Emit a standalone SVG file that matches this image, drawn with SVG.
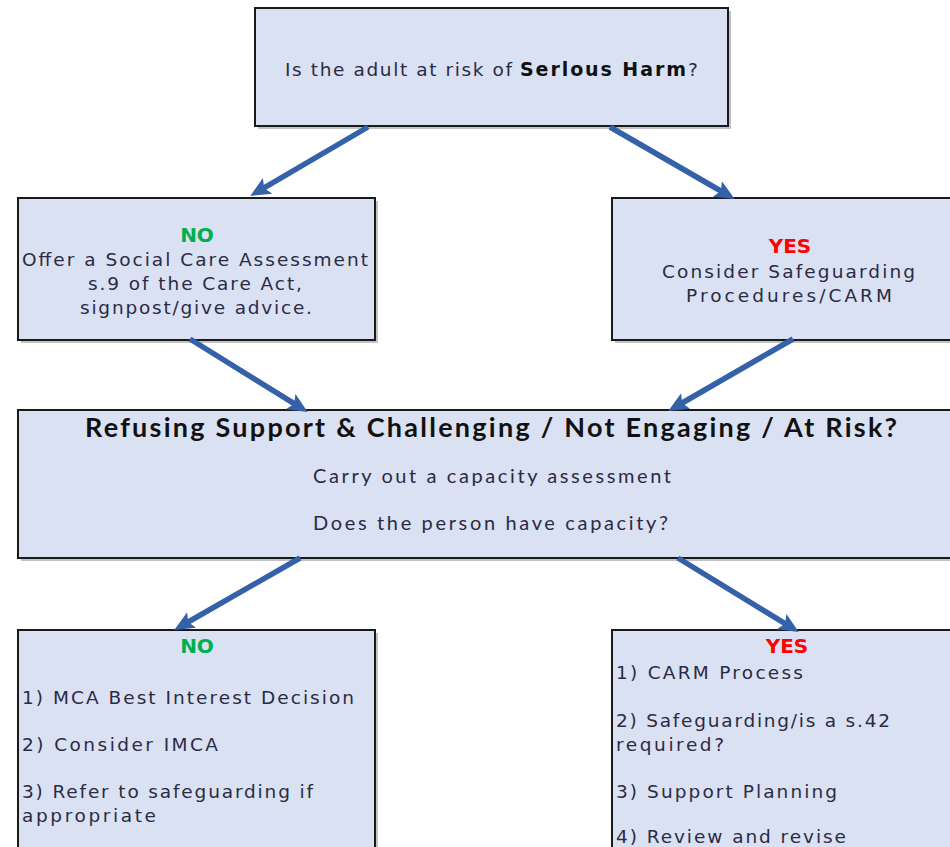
<svg xmlns="http://www.w3.org/2000/svg" width="950" height="847" viewBox="0 0 950 847">
<style>
.box{fill:#dae1f2;stroke:#1a1a1a;stroke-width:2}
.shadow{fill:#9a9a9a;opacity:0.6}
.t{font-family:"DejaVu Sans",Verdana,sans-serif;font-size:18.5px;fill:#2b2b45}
.tb{font-family:"DejaVu Sans",Verdana,sans-serif;font-size:19px;font-weight:bold;fill:#111}
.c{font-family:Lato,"Open Sans",sans-serif;font-size:20px;fill:#2b2b45}
.cb{font-family:Lato,"Open Sans",sans-serif;font-size:27px;font-weight:bold;fill:#111}
.no{font-family:"DejaVu Sans",Verdana,sans-serif;font-size:20px;font-weight:bold;fill:#00b050;text-anchor:middle}
.yes{font-family:"DejaVu Sans",Verdana,sans-serif;font-size:20px;font-weight:bold;fill:#ff0000;text-anchor:middle}
.arr{stroke:#3461a8;stroke-width:5.5;fill:none;marker-end:url(#ah)}
</style>
<defs>
<marker id="ah" markerUnits="userSpaceOnUse" markerWidth="22" markerHeight="20" refX="6" refY="9" orient="auto">
<path d="M0,0 L20,9 L0,18 L4,9 z" fill="#3461a8"/>
</marker>
</defs>
<rect width="950" height="847" fill="#ffffff"/>

<g id="n-top">
<rect class="shadow" x="258" y="11" width="473" height="118"/>
<rect class="box" x="255" y="8" width="473" height="118"/>
<text class="t" x="285" y="76" textLength="227" lengthAdjust="spacing">Is the adult at risk of</text>
<text class="tb" x="520" y="76" textLength="166" lengthAdjust="spacing">Serlous Harm</text>
<text class="t" x="688" y="76">?</text>
</g>

<g id="n-no1">
<rect class="shadow" x="21" y="201" width="357" height="142"/>
<rect class="box" x="18" y="198" width="357" height="142"/>
<text class="no" x="197" y="242">NO</text>
<text class="t" x="22" y="266" textLength="346" lengthAdjust="spacing">Offer a Social Care Assessment</text>
<text class="t" x="88" y="290" textLength="214" lengthAdjust="spacing">s.9 of the Care Act,</text>
<text class="t" x="80" y="314" textLength="232" lengthAdjust="spacing">signpost/give advice.</text>
</g>

<g id="n-yes1">
<rect class="shadow" x="615" y="201" width="340" height="142"/>
<rect class="box" x="612" y="198" width="345" height="142"/>
<text class="yes" x="790" y="253">YES</text>
<text class="t" x="662" y="278" textLength="253" lengthAdjust="spacing">Consider Safeguarding</text>
<text class="t" x="686" y="302" textLength="206" lengthAdjust="spacing">Procedures/CARM</text>
</g>

<g id="n-mid">
<rect class="shadow" x="21" y="413" width="940" height="148"/>
<rect class="box" x="18" y="410" width="945" height="148"/>
<text class="cb" x="85" y="437" textLength="812" lengthAdjust="spacing">Refusing Support &amp; Challenging / Not Engaging / At Risk?</text>
<text class="c" x="313" y="483" textLength="358" lengthAdjust="spacing">Carry out a capacity assessment</text>
<text class="c" x="313" y="530" textLength="355" lengthAdjust="spacing">Does the person have capacity?</text>
</g>

<g id="n-no2">
<rect class="shadow" x="21" y="633" width="357" height="220"/>
<rect class="box" x="18" y="630" width="357" height="225"/>
<text class="no" x="197" y="653">NO</text>
<text class="t" x="22" y="704" textLength="332" lengthAdjust="spacing">1) MCA Best Interest Decision</text>
<text class="t" x="22" y="751" textLength="196" lengthAdjust="spacing">2) Consider IMCA</text>
<text class="t" x="22" y="798" textLength="291" lengthAdjust="spacing">3) Refer to safeguarding if</text>
<text class="t" x="22" y="822" textLength="134" lengthAdjust="spacing">appropriate</text>
</g>

<g id="n-yes2">
<rect class="shadow" x="615" y="633" width="340" height="220"/>
<rect class="box" x="612" y="630" width="345" height="225"/>
<text class="yes" x="787" y="653">YES</text>
<text class="t" x="616" y="679" textLength="187" lengthAdjust="spacing">1) CARM Process</text>
<text class="t" x="616" y="727" textLength="274" lengthAdjust="spacing">2) Safeguarding/is a s.42</text>
<text class="t" x="616" y="751" textLength="108" lengthAdjust="spacing">required?</text>
<text class="t" x="616" y="798" textLength="221" lengthAdjust="spacing">3) Support Planning</text>
<text class="t" x="616" y="843" textLength="230" lengthAdjust="spacing">4) Review and revise</text>
</g>

<g id="connectors">
<line class="arr" x1="368" y1="127" x2="262.3" y2="188.9"/>
<line class="arr" x1="610" y1="127" x2="722.6" y2="192"/>
<line class="arr" x1="190" y1="339" x2="295.8" y2="404.7"/>
<line class="arr" x1="793" y1="339" x2="680.4" y2="404"/>
<line class="arr" x1="300" y1="558" x2="186.4" y2="623"/>
<line class="arr" x1="678" y1="558" x2="786.8" y2="624.7"/>
</g>
</svg>
